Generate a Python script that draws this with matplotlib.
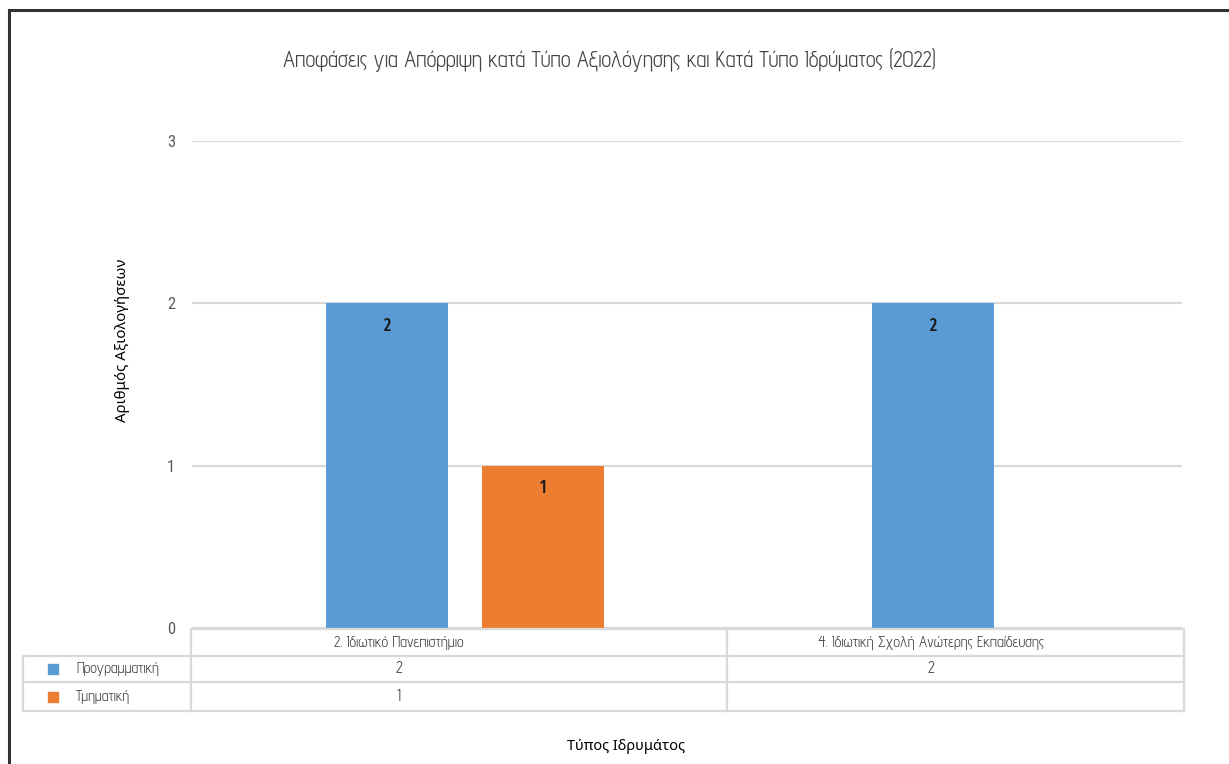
import numpy as np
import matplotlib
matplotlib.use("Agg")
import matplotlib.pyplot as plt
from matplotlib.lines import Line2D
from matplotlib.patches import Rectangle

# ---------------- data ----------------
categories = ["2. Ιδιωτικό Πανεπιστήμιο", "4. Ιδιωτική Σχολή Ανώτερης Εκπαίδευσης"]
series_names = ["Προγραμματική", "Τμηματική"]
programmatic = [2, 2]
departmental = [1, np.nan]
yticks = [0, 1, 2, 3]
title = "Αποφάσεις για Απόρριψη κατά Τύπο Αξιολόγησης και Κατά Τύπο Ιδρύματος (2022)"
ylabel = "Αριθμός Αξιολογήσεων"
xlabel = "Τύπος Ιδρυμάτος"

colors = ["#5B9BD5", "#ED7D31"]
grey = "#595959"
textgrey = "#444444"
linec = "#D9D9D9"
narrow = ["Advent Pro", "DejaVu Sans"]
narrow_bold = ["Fira Sans Extra Condensed", "DejaVu Sans"]
tickfont = ["Roboto Condensed", "DejaVu Sans"]
regular = ["Noto Sans", "DejaVu Sans"]

W, H = 1229, 764
fig = plt.figure(figsize=(W / 100, H / 100), dpi=100)

def fx(x):
    return x / W

def fy(y):
    return 1 - y / H

# plot area
left, right, top, bottom = 192, 1182, 141, 628
ax = fig.add_axes([fx(left), fy(bottom), fx(right) - fx(left), fy(top) - fy(bottom)])

x = np.arange(len(categories))
bw = 0.2234
off = 0.143
series = [programmatic, departmental]
for i, (vals, c) in enumerate(zip(series, colors)):
    pos = x + (-off if i == 0 else off)
    bars = ax.bar(pos, vals, width=bw, color=c, zorder=3)
    for b, v in zip(bars, vals):
        if np.isnan(v):
            continue
        ax.annotate(f"{int(v)}", (b.get_x() + b.get_width() / 2, v),
                    xytext=(0, -22), textcoords="offset pixels",
                    ha="center", va="center", fontsize=12.5, fontweight="medium",
                    family=narrow_bold, color="#1a1a1a", zorder=4)

ax.set_xlim(-0.5, 1.313)
ax.set_ylim(0, 3)
ax.set_yticks(yticks)
ax.set_xticks([])
ax.yaxis.grid(True, color=linec, linewidth=1.5, zorder=0)
for s in ax.spines.values():
    s.set_visible(False)
ax.tick_params(axis="y", length=0, pad=12, labelsize=12, labelcolor=grey)
for t in ax.get_yticklabels():
    t.set_family(tickfont)

# title & axis titles
fig.text(fx(609), fy(60), title, ha="center", va="center", fontsize=16,
         color=textgrey, family=narrow)
fig.text(fx(122), fy(340), ylabel, ha="center", va="center", rotation=90,
         fontsize=10.8, color="black", family=regular)
fig.text(fx(626), fy(746), xlabel, ha="center", va="center",
         fontsize=10.5, color="black", family=regular)

# ---------------- data table ----------------
def hline(y, x0, x1):
    fig.add_artist(Line2D([fx(x0), fx(x1)], [fy(y), fy(y)], color=linec, lw=1.6,
                          transform=fig.transFigure))

def vline(xp, y0, y1):
    fig.add_artist(Line2D([fx(xp), fx(xp)], [fy(y0), fy(y1)], color=linec, lw=1.6,
                          transform=fig.transFigure))

col_edges = [23, 191, 727, 1184]
text_centers = [399, 931]
row_edges = [629, 656, 682, 711]
hline(row_edges[0], col_edges[1], col_edges[3])
for ry in row_edges[1:]:
    hline(ry, col_edges[0], col_edges[3])
vline(col_edges[0], row_edges[1], row_edges[3])
for cx in col_edges[1:]:
    vline(cx, row_edges[0], row_edges[3])

# header
for j, cat in enumerate(categories):
    fig.text(fx(text_centers[j]), fy((row_edges[0] + row_edges[1]) / 2), cat,
             ha="center", va="center", fontsize=11, color=textgrey, family=narrow)

# rows
for i, (name, vals, c) in enumerate(zip(series_names, series, colors)):
    cy = (row_edges[i + 1] + row_edges[i + 2]) / 2
    fig.add_artist(Rectangle((fx(48), fy(cy + 5)), fx(10), 10 / H, color=c,
                             transform=fig.transFigure))
    fig.text(fx(76), fy(cy), name, ha="left", va="center", fontsize=10.8,
             color=textgrey, family=narrow)
    for j, v in enumerate(vals):
        if np.isnan(v):
            continue
        fig.text(fx(text_centers[j]), fy(cy), f"{int(v)}", ha="center",
                 va="center", fontsize=12, color=textgrey, family=narrow)

# outer frame (left & top edges visible)
fig.add_artist(Line2D([fx(9), fx(9)], [fy(10), 0], color="#333333", lw=2.2,
                      transform=fig.transFigure))
fig.add_artist(Line2D([fx(9), 1], [fy(10), fy(10)], color="#333333", lw=2.2,
                      transform=fig.transFigure))

fig.savefig("out.png", dpi=100)
